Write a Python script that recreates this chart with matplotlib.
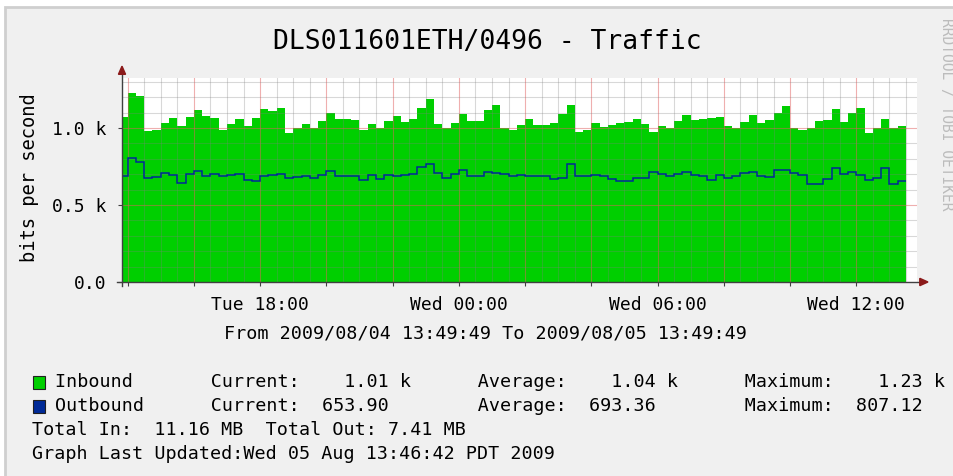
import numpy as np
import matplotlib
matplotlib.use("Agg")
import matplotlib.pyplot as plt
from matplotlib.patches import Rectangle, Polygon

# ---------------- data ----------------
title = "DLS011601ETH/0496 - Traffic"
ylabel = "bits per second"
period_text = "From 2009/08/04 13:49:49 To 2009/08/05 13:49:49"
watermark = "RRDTOOL / TOBI OETIKER"

start_hour = 13 + 49 / 60 + 49 / 3600   # Tue 13:49:49, hours since Tue 00:00
span_hours = 24
first_step_hour = 14.0
step_hours = 0.25

inbound = [
    1070, 1230, 1210, 980, 990, 1030, 1065, 1013, 1070, 1120, 1077, 1063, 987, 1024, 1056, 1015,
    1067, 1123, 1110, 1130, 966, 998, 1024, 998, 1045, 1095, 1056, 1060, 1054, 987, 1024, 998,
    1045, 1080, 1041, 1056, 1128, 1188, 1024, 998, 1035, 1089, 1045, 1045, 1115, 1149, 1002, 990,
    1020, 1056, 1020, 1020, 1030, 1089, 1149, 972, 990, 1030, 1009, 1020, 1035, 1041, 1058,
    1026, 976, 1015, 1002, 1045, 1084, 1052, 1058, 1063, 1073, 1015, 1002, 1037, 1084, 1030, 1052,
    1095, 1145, 998, 987, 1002, 1045, 1052, 1123, 1037, 1095, 1132, 966, 1002, 1056, 1002, 1010,
]
outbound = [
    690, 807, 777, 677, 680, 706, 697, 645, 701, 721, 690, 701, 686, 697, 701, 662,
    656, 690, 697, 701, 677, 684, 690, 675, 697, 721, 690, 690, 690, 662, 697, 670,
    697, 690, 697, 701, 749, 764, 706, 677, 701, 727, 690, 690, 716, 706, 701, 690,
    697, 686, 690, 686, 669, 675, 764, 686, 690, 697, 686, 669, 656, 656, 677,
    677, 712, 701, 690, 701, 712, 697, 690, 662, 697, 675, 690, 706, 716, 690, 680,
    727, 727, 706, 697, 634, 634, 669, 742, 701, 712, 697, 662, 677, 742, 634, 654,
]

xtick_hours = [18, 24, 30, 36]
xtick_labels = ["Tue 18:00", "Wed 00:00", "Wed 06:00", "Wed 12:00"]
ytick_values = [0, 500, 1000]
ytick_labels = ["0.0", "0.5 k", "1.0 k"]
y_max = 1325

series_names = ["Inbound", "Outbound"]
series_colors = ["#00CF00", "#002A97"]
stat_current = [1010, 653.90]
stat_average = [1040, 693.36]
stat_maximum = [1230, 807.12]
totals_line = "Total In:  11.16 MB  Total Out: 7.41 MB"
updated_line = "Graph Last Updated:Wed 05 Aug 13:46:42 PDT 2009"

# ---------------- figure ----------------
W, H = 954, 476
fig = plt.figure(figsize=(W / 100, H / 100), dpi=100, facecolor="white")
MONO = ["DejaVu Sans Mono"]


def fx(x):
    return x / W


def fy(y):
    return 1 - y / H


# rrdtool style background panel
fig.patches.append(Rectangle((fx(5), fy(480)), fx(960) - fx(5), fy(7) - fy(480),
                             transform=fig.transFigure, facecolor="#f0f0f0",
                             edgecolor="#cfcfcf", lw=2, zorder=-5))

ax = fig.add_axes([fx(122), fy(282), fx(917) - fx(122), fy(78) - fy(282)])
ax.set_zorder(1)
ax.set_facecolor("white")
ax.set_xlim(start_hour, start_hour + span_hours)
ax.set_ylim(0, y_max)
for s in ax.spines.values():
    s.set_visible(False)

edges = np.concatenate([[start_hour],
                        first_step_hour + step_hours * np.arange(len(inbound))])

ax.stairs(inbound, edges, fill=True, color=series_colors[0], baseline=0, zorder=1)

# grid (drawn above the area, like rrdtool)
for h in np.arange(14, start_hour + span_hours, 0.5):
    if h % 2 == 0:
        ax.axvline(h, color="#e06060", lw=0.8, alpha=0.5, zorder=2)
    else:
        ax.axvline(h, color="#808080", lw=0.8, alpha=0.3, zorder=2)
for v in np.arange(100, y_max, 100):
    if v % 500 == 0:
        ax.axhline(v, color="#e06060", lw=0.8, alpha=0.5, zorder=2)
    else:
        ax.axhline(v, color="#808080", lw=0.8, alpha=0.3, zorder=2)

ax.stairs(outbound, edges, baseline=None, color=series_colors[1], lw=1.1, zorder=3)

# ticks and labels
ax.set_xticks(xtick_hours, xtick_labels, fontfamily=MONO, fontsize=13)
ax.set_xticks(np.arange(14, 38, 2), minor=True)
ax.set_yticks(ytick_values, ytick_labels, fontfamily=MONO, fontsize=13)
ax.tick_params(axis="x", which="both", length=3, width=0.8, color="#404040", pad=7)
ax.tick_params(axis="y", which="both", length=3, width=0.8, color="#404040", pad=8)
ax.tick_params(axis="y", which="minor", length=0)

# axis lines and arrows
ax.plot([-0.006, 1.004], [0, 0], transform=ax.transAxes, color="#404040", lw=1,
        clip_on=False, zorder=5)
ax.plot([0, 0], [-0.02, 1.02], transform=ax.transAxes, color="#404040", lw=1,
        clip_on=False, zorder=5)
ax.add_patch(Polygon([[1.0035, -0.018], [1.0035, 0.018], [1.0138, 0]], closed=True,
                     transform=ax.transAxes, color="#8b1a1a", clip_on=False, zorder=6))
ax.add_patch(Polygon([[-0.0045, 1.018], [0.0045, 1.018], [0, 1.058]], closed=True,
                     transform=ax.transAxes, color="#8b1a1a", clip_on=False, zorder=6))

# texts
fig.text(fx(487.5), fy(42), title, ha="center", va="center", fontsize=19, family=MONO)
fig.text(fx(30), fy(178), ylabel, ha="center", va="center", rotation=90, fontsize=13.5,
         family=MONO)
fig.text(fx(485.5), fy(333), period_text, ha="center", va="center", fontsize=13.25,
         family=MONO)
fig.text(fx(947), fy(114), watermark, ha="center", va="center", rotation=270,
         fontsize=10.5, family=MONO, color="#bcbcbc")


def fmt(v):
    if v >= 1000:
        return f"{v / 1000:8.2f} k"
    return f"{v:8.2f}  "


row_y = [382, 406, 430, 454]
for i, name in enumerate(series_names):
    fig.patches.append(Rectangle((fx(33), fy(row_y[i] + 6.5)), fx(12), fy(0) - fy(13),
                                 transform=fig.transFigure, facecolor=series_colors[i],
                                 edgecolor="#202020", lw=0.8, zorder=2))
    line = (f"{name:<14}Current:{fmt(stat_current[i])}      "
            f"Average:{fmt(stat_average[i])}      Maximum:{fmt(stat_maximum[i])}")
    fig.text(fx(55), fy(row_y[i]), line, ha="left", va="center", fontsize=13.25,
             family=MONO)
fig.text(fx(32), fy(row_y[2]), totals_line, ha="left", va="center", fontsize=13.25,
         family=MONO)
fig.text(fx(32), fy(row_y[3]), updated_line, ha="left", va="center", fontsize=13.25,
         family=MONO)

fig.savefig("out.png", dpi=100, facecolor=fig.get_facecolor())
